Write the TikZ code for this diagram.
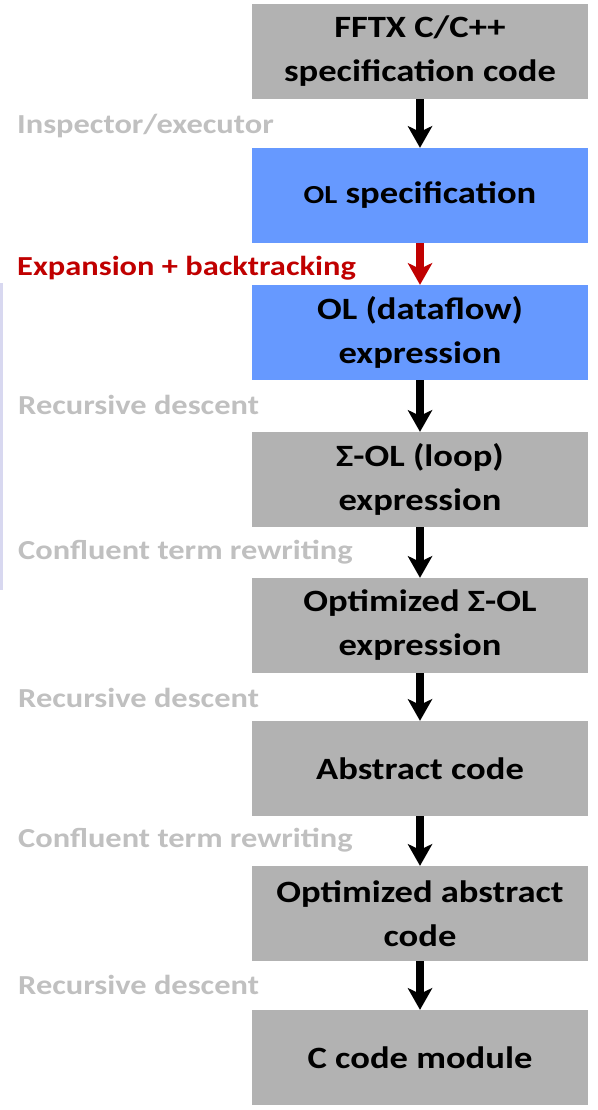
\documentclass[tikz,border=0pt]{standalone}
\usepackage{fontspec}
\setmainfont{Carlito}[FakeStretch=1.18]
\usetikzlibrary{arrows.meta}
\definecolor{boxgray}{HTML}{B2B2B2}
\definecolor{boxblue}{HTML}{6699FF}
\definecolor{lblgray}{HTML}{C0C0C0}
\definecolor{lblred}{HTML}{C00000}
\definecolor{sideline}{HTML}{D8D8F0}
\tikzset{
  stage/.style={draw=none, minimum width=336pt, minimum height=95pt, inner sep=0pt,
    align=center, font=\bfseries\fontsize{31}{44}\selectfont, text=black},
  graystage/.style={stage, fill=boxgray},
  bluestage/.style={stage, fill=boxblue},
  steplabel/.style={anchor=west, inner sep=0pt, text=lblgray, font=\bfseries\fontsize{27.5}{32}\selectfont},
  flow/.style={line width=8pt, -{Stealth[length=22pt,width=25pt,inset=6pt,line width=0pt]}},
}
\begin{document}
\begin{tikzpicture}[x=1pt,y=-1pt]
\useasboundingbox (0,0) rectangle (597,1110);
\fill[sideline] (0,283) rectangle (3,590);
\node[graystage] (b1) at (420,51.5) {FFTX C/C++\\specification code};
\node[bluestage] (b2) at (420,195.5) {{\fontsize{26}{30}\selectfont OL} specification};
\node[bluestage] (b3) at (420,332.5) {OL (dataflow)\\expression};
\node[graystage] (b4) at (420,479.5) {Σ-OL (loop)\\expression};
\node[graystage] (b5) at (420,625.5) {Optimized Σ-OL\\expression};
\node[graystage] (b6) at (420,768.5) {Abstract code};
\node[graystage] (b7) at (420,913.5) {Optimized abstract\\code};
\node[graystage] (b8) at (420,1057.5) {C code module};
\draw[flow] (b1) -- (b2);
\draw[flow, draw=lblred, fill=lblred] (b2) -- (b3);
\draw[flow] (b3) -- (b4);
\draw[flow] (b4) -- (b5);
\draw[flow] (b5) -- (b6);
\draw[flow] (b6) -- (b7);
\draw[flow] (b7) -- (b8);
\node[steplabel] (l1) at (17,126) {Inspector/executor};
\node[steplabel, text=lblred] (l2) at (17,268) {Expansion + backtracking};
\node[steplabel] (l3) at (18,405) {Recursive descent};
\node[steplabel] (l4) at (18,552) {Confluent term rewriting};
\node[steplabel] (l5) at (18,698) {Recursive descent};
\node[steplabel] (l6) at (18,840) {Confluent term rewriting};
\node[steplabel] (l7) at (18,985) {Recursive descent};
\end{tikzpicture}
\end{document}
